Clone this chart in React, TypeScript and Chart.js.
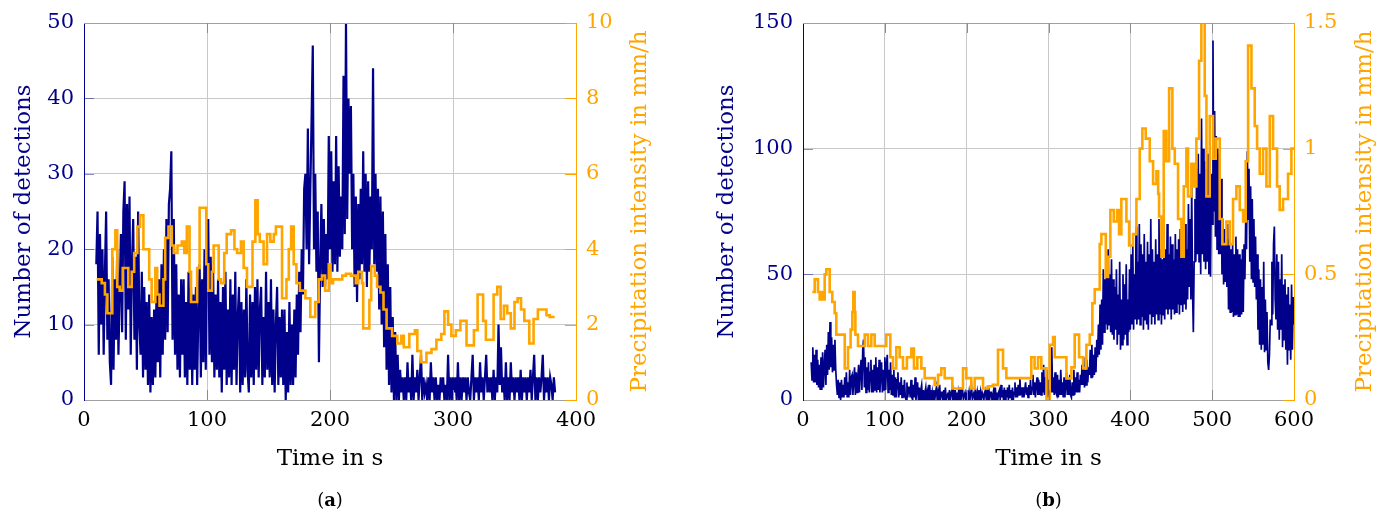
import React, { useEffect, useRef } from 'react';
import { Chart, registerables } from 'chart.js';

Chart.register(...registerables);

const NAVY = '#00008B';
const ORANGE = '#FFA500';
const FONT = "'DejaVu Serif', 'Liberation Serif', serif";

// ---------- Panel (a) ----------
const detStartA = 10; // seconds, one sample per second
const detectionsA = [
  18,25,6,22,10,20,6,17,25,8,
  16,5,2,19,4,16,8,20,6,14,
  22,9,25,29,8,26,12,27,6,18,
  24,8,19,4,25,10,6,17,3,15,
  4,13,2,14,1,11,2,12,3,15,
  5,16,3,18,6,20,8,24,9,26,
  28,33,8,24,6,18,4,14,3,16,
  6,16,3,13,2,17,4,15,2,14,
  4,15,2,12,18,3,16,5,20,4,
  22,24,6,19,5,17,3,14,4,16,
  3,13,1,15,4,17,2,12,3,16,
  2,14,4,17,2,11,15,1,13,2,
  12,3,16,4,1,14,3,13,2,15,
  4,16,3,12,15,2,11,3,17,4,
  13,3,16,2,12,1,10,15,2,11,
  3,12,2,12,0,9,1,13,2,10,
  2,12,3,14,6,17,9,20,14,28,
  30,20,36,18,28,37,47,20,30,17,
  25,5,18,26,15,24,15,22,16,35,
  20,33,17,29,18,35,17,31,19,27,
  20,43,22,50,24,40,30,39,20,30,
  15,27,13,26,16,28,18,33,17,30,
  15,29,17,27,20,44,18,30,17,28,
  12,27,10,25,7,22,4,18,2,15,
  1,11,0,9,0,6,0,4,1,3,
  0,3,0,5,1,3,0,6,0,3,
  1,4,0,3,6,0,3,1,2,0,
  3,0,5,1,3,0,3,0,2,0,
  3,1,3,0,2,0,6,0,3,0,
  3,1,3,0,5,0,3,0,3,1,
  3,0,3,1,0,3,6,0,3,1,
  3,0,5,1,3,0,3,6,1,3,
  1,3,0,4,0,3,1,10,2,7,
  1,3,0,5,0,3,0,5,1,3,
  0,3,1,3,0,4,0,3,1,3,
  0,3,1,4,0,3,6,0,3,0,
  3,1,3,6,0,3,1,3,0,3,
  2,0,3,1,
];
const precipTimesA = [10.3,14.4,17,19,23,25.5,27,29,31.5,36,38.8,40.8,43.4,45.6,48.3,53,55,58,59.5,61.4,64.6,66,68.7,71.4,73,76,79.5,81.5,83.6,85.8,87,92,94,99.4,101,104,105.4,109.5,111.4,114,116,119.6,122.3,124.5,127.6,129.8,132.5,137,139.3,141.2,142.9,146,148.8,151.5,154.3,156,161,164.6,166.5,168.4,170.5,172.7,175.5,180,184,188,190.8,193.5,196,199,200.4,202.5,210,213,217,221,223,226,227,232,233.5,236.4,238.3,241,243.5,246,250.5,254.7,258,260,264.5,269,271,274,278.4,282.5,286.5,290.5,293,296,298.7,302.3,306,311,317,320,324.5,326.7,333,336,338.7,341.4,344.1,347,350,352.5,355.3,358,362,365.5,369,373,376,378.6,382.7];
const precipA = [3.2,3.1,2.8,2.3,4.0,4.5,3.0,2.9,3.5,3.0,3.4,3.9,4.6,4.9,4.0,3.2,2.6,3.5,2.8,2.5,3.2,4.3,4.6,4.1,3.9,4.1,4.2,3.9,4.6,3.4,2.6,3.5,5.1,3.6,2.9,3.4,4.1,3.2,3.1,3.9,4.4,4.5,4.0,3.9,4.2,3.5,3.0,4.2,5.3,4.4,4.2,3.6,4.4,4.2,4.4,4.6,2.7,3.2,4.0,4.6,3.6,3.1,2.9,2.7,2.2,2.6,3.2,3.3,2.9,3.6,3.1,3.2,3.3,3.35,3.3,3.1,3.4,3.1,1.9,2.65,3.55,3.3,3.0,2.85,2.4,1.9,1.7,1.5,1.7,1.4,1.75,1.85,1.3,1.0,1.25,1.35,1.6,1.75,2.35,2.0,1.7,1.85,2.1,1.45,1.85,2.8,2.1,1.6,2.8,3.0,2.15,2.5,2.3,1.9,2.6,2.7,2.4,2.1,1.5,2.15,2.4,2.4,2.25,2.2,2.2];
const xTicksA = [0, 100, 200, 300, 400];
const yTicksA = [0, 10, 20, 30, 40, 50];
const y1TicksA = [0, 2, 4, 6, 8, 10];

// ---------- Panel (b) ----------
const detStartB = 10;
const detectionsB = [
  15,8,21,7,18,7,20,6,16,5,
  14,4,17,4,19,5,13,20,6,22,
  10,27,12,31,13,25,11,22,12,24,
  12,6,2,8,1,7,0,8,1,6,
  1,9,2,11,1,7,1,12,2,9,
  10,2,8,13,2,11,3,9,14,3,
  12,16,4,20,24,5,17,3,13,4,
  15,3,11,16,3,12,3,14,4,17,
  3,13,4,16,3,11,15,3,12,4,
  17,4,14,18,3,12,4,15,2,10,
  2,12,1,9,1,8,11,1,7,2,
  9,1,6,1,8,1,0,7,1,5,
  5,1,8,1,0,6,1,9,0,4,
  7,0,5,0,4,6,0,4,0,3,
  5,0,3,0,6,0,4,0,3,0,
  4,0,3,5,0,3,0,6,0,3,
  3,0,4,0,5,0,2,3,0,4,
  0,3,5,0,3,0,4,0,3,0,
  3,0,5,0,3,4,0,2,3,0,
  0,4,0,3,0,3,5,0,2,3,
  0,3,0,3,0,4,0,3,0,3,
  2,0,3,4,0,3,0,5,0,3,
  3,0,2,4,0,5,0,3,0,3,
  4,0,6,1,4,0,5,0,4,1,
  5,0,6,1,4,0,5,0,3,7,
  1,5,1,6,2,9,2,5,1,5,
  1,4,7,2,5,1,6,2,8,2,
  5,10,2,7,1,6,9,2,8,2,
  7,2,11,3,14,2,9,3,12,1,
  8,2,10,3,21,3,9,2,11,3,
  2,10,1,8,2,12,2,7,1,9,
  1,6,11,2,8,2,10,2,1,7,
  2,12,2,9,3,11,3,8,3,10,
  6,14,6,17,5,12,6,16,7,13,
  10,20,9,22,9,18,10,21,11,24,
  17,30,18,38,20,40,22,52,27,48,
  30,55,28,60,30,50,27,56,26,48,
  24,45,28,52,22,42,26,55,20,40,
  22,50,24,46,26,54,22,40,27,52,
  28,58,30,62,28,50,32,69,30,55,
  32,70,30,62,33,58,28,66,32,55,
  30,63,28,58,34,72,30,60,33,55,
  30,64,34,58,32,72,34,60,30,56,
  34,66,32,60,36,70,34,58,36,65,
  32,62,36,56,34,66,35,60,38,64,
  34,68,38,62,35,58,38,70,36,60,
  40,78,45,72,40,86,44,27,55,80,
  55,92,58,98,55,90,50,112,58,100,
  55,95,52,92,55,98,50,85,49,90,
  70,143,75,115,65,105,60,100,58,98,
  58,88,50,72,46,68,47,62,45,70,
  36,64,35,60,35,62,33,58,34,65,
  34,60,33,58,33,56,34,60,35,62,
  48,72,60,99,72,92,55,85,48,80,
  47,72,45,65,40,58,28,52,22,48,
  20,45,22,55,19,40,20,35,15,12,
  18,32,30,55,34,62,69,40,32,58,
  28,55,24,48,28,58,21,46,24,48,
  20,42,14,45,20,38,16,46,20,41,
  30,
];
const precipTimesB = [11.4,14.3,18.3,20.4,22,24,26.5,28.5,32.6,35.8,38.7,40.7,51,55,58.2,60.3,61.5,63.1,64,67.2,75.4,79.4,83.5,87.6,101.8,106.7,110,114,118.1,122.2,127,132.4,135.6,139.7,144.6,148.7,160.9,165,169,173.1,182.5,195.5,199.6,205.7,209.8,220,226,232,238.3,244.4,248.5,279,283,287.2,291.2,297.5,301.5,305.6,307.6,321.9,328,332,337.4,342.3,346.3,350.4,353.6,356.5,362.6,364.6,370,372.8,375.6,379.7,383.8,386.2,389,395.2,398.5,403.3,407.4,411.5,414.7,418.8,423.7,427.8,431.9,434,435.1,438,440.8,444,447.4,451.4,454.3,458.3,462.4,465.3,468.5,470.5,474.6,477.5,480.7,484,486.8,490.9,493,497,501.1,504.4,509.2,512.5,517.4,521.5,525.5,529.6,533.7,537.8,541,543.9,548,552,554.9,558.1,562.2,566.3,570.4,574.4,579.3,582.5,586.6,592.7,596.8,600];
const precipB = [0.43,0.48,0.43,0.40,0.43,0.40,0.50,0.52,0.43,0.39,0.345,0.26,0.126,0.21,0.28,0.35,0.43,0.35,0.26,0.215,0.26,0.215,0.26,0.215,0.26,0.17,0.126,0.21,0.17,0.126,0.17,0.205,0.126,0.17,0.126,0.087,0.06,0.1,0.126,0.087,0.046,0.126,0.087,0.046,0.087,0.046,0.055,0.06,0.2,0.126,0.087,0.17,0.126,0.17,0.126,0,0.22,0.25,0.17,0.086,0.13,0.26,0.17,0.126,0.22,0.26,0.385,0.44,0.62,0.66,0.49,0.57,0.756,0.71,0.756,0.66,0.80,0.71,0.615,0.66,0.80,1.0,1.08,1.04,0.95,0.86,0.91,0.82,0.73,0.57,1.07,0.95,1.24,1.0,0.94,0.72,0.57,0.85,1.0,0.81,0.94,0.85,1.04,1.35,1.5,1.21,0.81,1.13,0.96,1.04,0.72,0.62,0.71,0.62,0.80,0.85,0.756,0.71,0.95,1.41,1.24,1.09,1.0,0.9,1.0,0.85,1.13,1.0,0.85,0.756,0.80,0.9,1.0,1.0];
const xTicksB = [0, 100, 200, 300, 400, 500, 600];
const yTicksB = [0, 50, 100, 150];
const y1TicksB = [0, 0.5, 1, 1.5];

const X_TITLE = 'Time in s';
const Y_TITLE = 'Number of detections';
const Y1_TITLE = 'Precipitation intensity in mm/h';

type Spec = {
  det: number[];
  detStart: number;
  pTimes: number[];
  p: number[];
  xTicks: number[];
  yTicks: number[];
  y1Ticks: number[];
  leftW: number;
  rightW: number;
  leftTitlePad: number;
  rightTitleX: number;
  detWidth: number;
};

const CANVAS_W = 696;
const CANVAS_H = 513;

function makeFramePlugin(spec: Spec) {
  return {
    id: 'frameDeco',
    afterDraw(chart: any) {
      const { ctx, chartArea: a, scales } = chart;
      ctx.save();
      ctx.lineWidth = 1;
      // top frame line
      ctx.strokeStyle = '#a0a0a0';
      ctx.beginPath();
      ctx.moveTo(a.left, Math.round(a.top) + 0.5);
      ctx.lineTo(a.right, Math.round(a.top) + 0.5);
      ctx.stroke();
      // inner x ticks (top and bottom), skipping the frame edges
      ctx.strokeStyle = '#8c8c8c';
      const xt = scales.x.ticks;
      for (let i = 1; i < xt.length - 1; i++) {
        const px = Math.round(scales.x.getPixelForValue(xt[i].value)) + 0.5;
        ctx.beginPath();
        ctx.moveTo(px, a.bottom);
        ctx.lineTo(px, a.bottom - 10);
        ctx.moveTo(px, a.top);
        ctx.lineTo(px, a.top + 10);
        ctx.stroke();
      }
      // inner left ticks
      ctx.strokeStyle = 'rgba(0,0,139,0.45)';
      const yt = scales.y.ticks;
      for (let i = 1; i < yt.length - 1; i++) {
        const py = Math.round(scales.y.getPixelForValue(yt[i].value)) + 0.5;
        ctx.beginPath();
        ctx.moveTo(a.left, py);
        ctx.lineTo(a.left + 10, py);
        ctx.stroke();
      }
      // inner right ticks
      ctx.strokeStyle = ORANGE;
      const y1t = scales.y1.ticks;
      for (let i = 0; i < y1t.length; i++) {
        const py = Math.round(scales.y1.getPixelForValue(y1t[i].value)) + 0.5;
        ctx.beginPath();
        ctx.moveTo(a.right - 11, py);
        ctx.lineTo(a.right, py);
        ctx.stroke();
      }
      // right axis title, reading bottom to top
      ctx.fillStyle = ORANGE;
      ctx.font = `23px ${FONT}`;
      ctx.textAlign = 'center';
      ctx.textBaseline = 'middle';
      ctx.translate(spec.rightTitleX, (a.top + a.bottom) / 2);
      ctx.rotate(-Math.PI / 2);
      ctx.fillText(Y1_TITLE, 0, 0);
      ctx.restore();
    },
  };
}

function Panel({ spec, left, label }: { spec: Spec; left: number; label: string }) {
  const ref = useRef<HTMLCanvasElement>(null);

  useEffect(() => {
    const canvas = ref.current;
    if (!canvas) return;
    const detData = spec.det.map((v, i) => ({ x: spec.detStart + i, y: v }));
    const pData = spec.pTimes.map((t, i) => ({ x: t, y: spec.p[i] }));
    const xMax = spec.xTicks[spec.xTicks.length - 1];
    const yMax = spec.yTicks[spec.yTicks.length - 1];
    const y1Max = spec.y1Ticks[spec.y1Ticks.length - 1];

    const chart = new Chart(canvas, {
      type: 'line',
      data: {
        datasets: [
          {
            label: 'Precipitation intensity',
            data: pData,
            yAxisID: 'y1',
            borderColor: ORANGE,
            backgroundColor: ORANGE,
            borderWidth: 2.6,
            pointRadius: 0,
            stepped: 'before',
            fill: false,
            order: 0,
          },
          {
            label: 'Number of detections',
            data: detData,
            yAxisID: 'y',
            borderColor: NAVY,
            backgroundColor: NAVY,
            borderWidth: spec.detWidth,
            pointRadius: 0,
            fill: false,
            order: 1,
          },
        ],
      },
      options: {
        animation: false,
        responsive: false,
        events: [],
        layout: { padding: { top: 23, left: 0, right: 0, bottom: 0 } },
        plugins: {
          legend: { display: false },
          tooltip: { enabled: false },
          title: { display: false },
        },
        scales: {
          x: {
            type: 'linear',
            min: 0,
            max: xMax,
            afterBuildTicks: (s: any) => {
              s.ticks = spec.xTicks.map((v) => ({ value: v }));
            },
            afterFit: (s: any) => {
              s.height = CANVAS_H - 400;
            },
            ticks: {
              color: '#000',
              padding: 8,
              font: { family: FONT, size: 21 },
              callback: (v: any) => String(v),
              maxRotation: 0,
              autoSkip: false,
            },
            grid: { color: '#c8c8c8', drawTicks: false },
            border: { color: '#a0a0a0', width: 1 },
            title: {
              display: true,
              text: X_TITLE,
              color: '#000',
              font: { family: FONT, size: 23, lineHeight: 1.2 },
              padding: { top: 0, bottom: 40 },
            },
          },
          y: {
            type: 'linear',
            position: 'left',
            min: 0,
            max: yMax,
            afterBuildTicks: (s: any) => {
              s.ticks = spec.yTicks.map((v) => ({ value: v }));
            },
            afterFit: (s: any) => {
              s.width = spec.leftW;
            },
            ticks: {
              color: NAVY,
              padding: 10,
              font: { family: FONT, size: 21 },
              callback: (v: any) => String(v),
              autoSkip: false,
            },
            grid: { color: '#c8c8c8', drawTicks: false },
            border: { color: NAVY, width: 1 },
            title: {
              display: true,
              text: Y_TITLE,
              color: NAVY,
              font: { family: FONT, size: 23, lineHeight: 1.2 },
              padding: { top: spec.leftTitlePad, bottom: 0 },
            },
          },
          y1: {
            type: 'linear',
            position: 'right',
            min: 0,
            max: y1Max,
            afterBuildTicks: (s: any) => {
              s.ticks = spec.y1Ticks.map((v) => ({ value: v }));
            },
            afterFit: (s: any) => {
              s.width = spec.rightW;
            },
            ticks: {
              color: ORANGE,
              padding: 10,
              font: { family: FONT, size: 21 },
              callback: (v: any) => String(v),
              autoSkip: false,
            },
            grid: { drawOnChartArea: false, drawTicks: false },
            border: { color: ORANGE, width: 1 },
            title: { display: false },
          },
        },
      },
      plugins: [makeFramePlugin(spec)],
    } as any);

    return () => chart.destroy();
  }, [spec]);

  const centerX = left + spec.leftW + (CANVAS_W - spec.leftW - spec.rightW) / 2;

  return (
    <>
      <canvas
        ref={ref}
        width={CANVAS_W}
        height={CANVAS_H}
        style={{ position: 'absolute', left, top: 0, width: CANVAS_W, height: CANVAS_H }}
      />
      <div
        style={{
          position: 'absolute',
          left: centerX - 40,
          width: 80,
          top: 489,
          textAlign: 'center',
          fontFamily: FONT,
          fontSize: 18,
          lineHeight: '22px',
          color: '#000',
        }}
      >
        (<b>{label}</b>)
      </div>
    </>
  );
}

const specA: Spec = {
  det: detectionsA,
  detStart: detStartA,
  pTimes: precipTimesA,
  p: precipA,
  xTicks: xTicksA,
  yTicks: yTicksA,
  y1Ticks: y1TicksA,
  leftW: 84,
  rightW: 120,
  leftTitlePad: 10,
  rightTitleX: 640,
  detWidth: 2.2,
};

const specB: Spec = {
  det: detectionsB,
  detStart: detStartB,
  pTimes: precipTimesB,
  p: precipB,
  xTicks: xTicksB,
  yTicks: yTicksB,
  y1Ticks: y1TicksB,
  leftW: 107,
  rightW: 98,
  leftTitlePad: 17,
  rightTitleX: 669,
  detWidth: 1.7,
};

export default function App() {
  return (
    <div style={{ position: 'absolute', left: 0, top: 0, width: 1392, height: 513, background: '#fff' }}>
      <Panel spec={specA} left={0} label="a" />
      <Panel spec={specB} left={696} label="b" />
    </div>
  );
}
